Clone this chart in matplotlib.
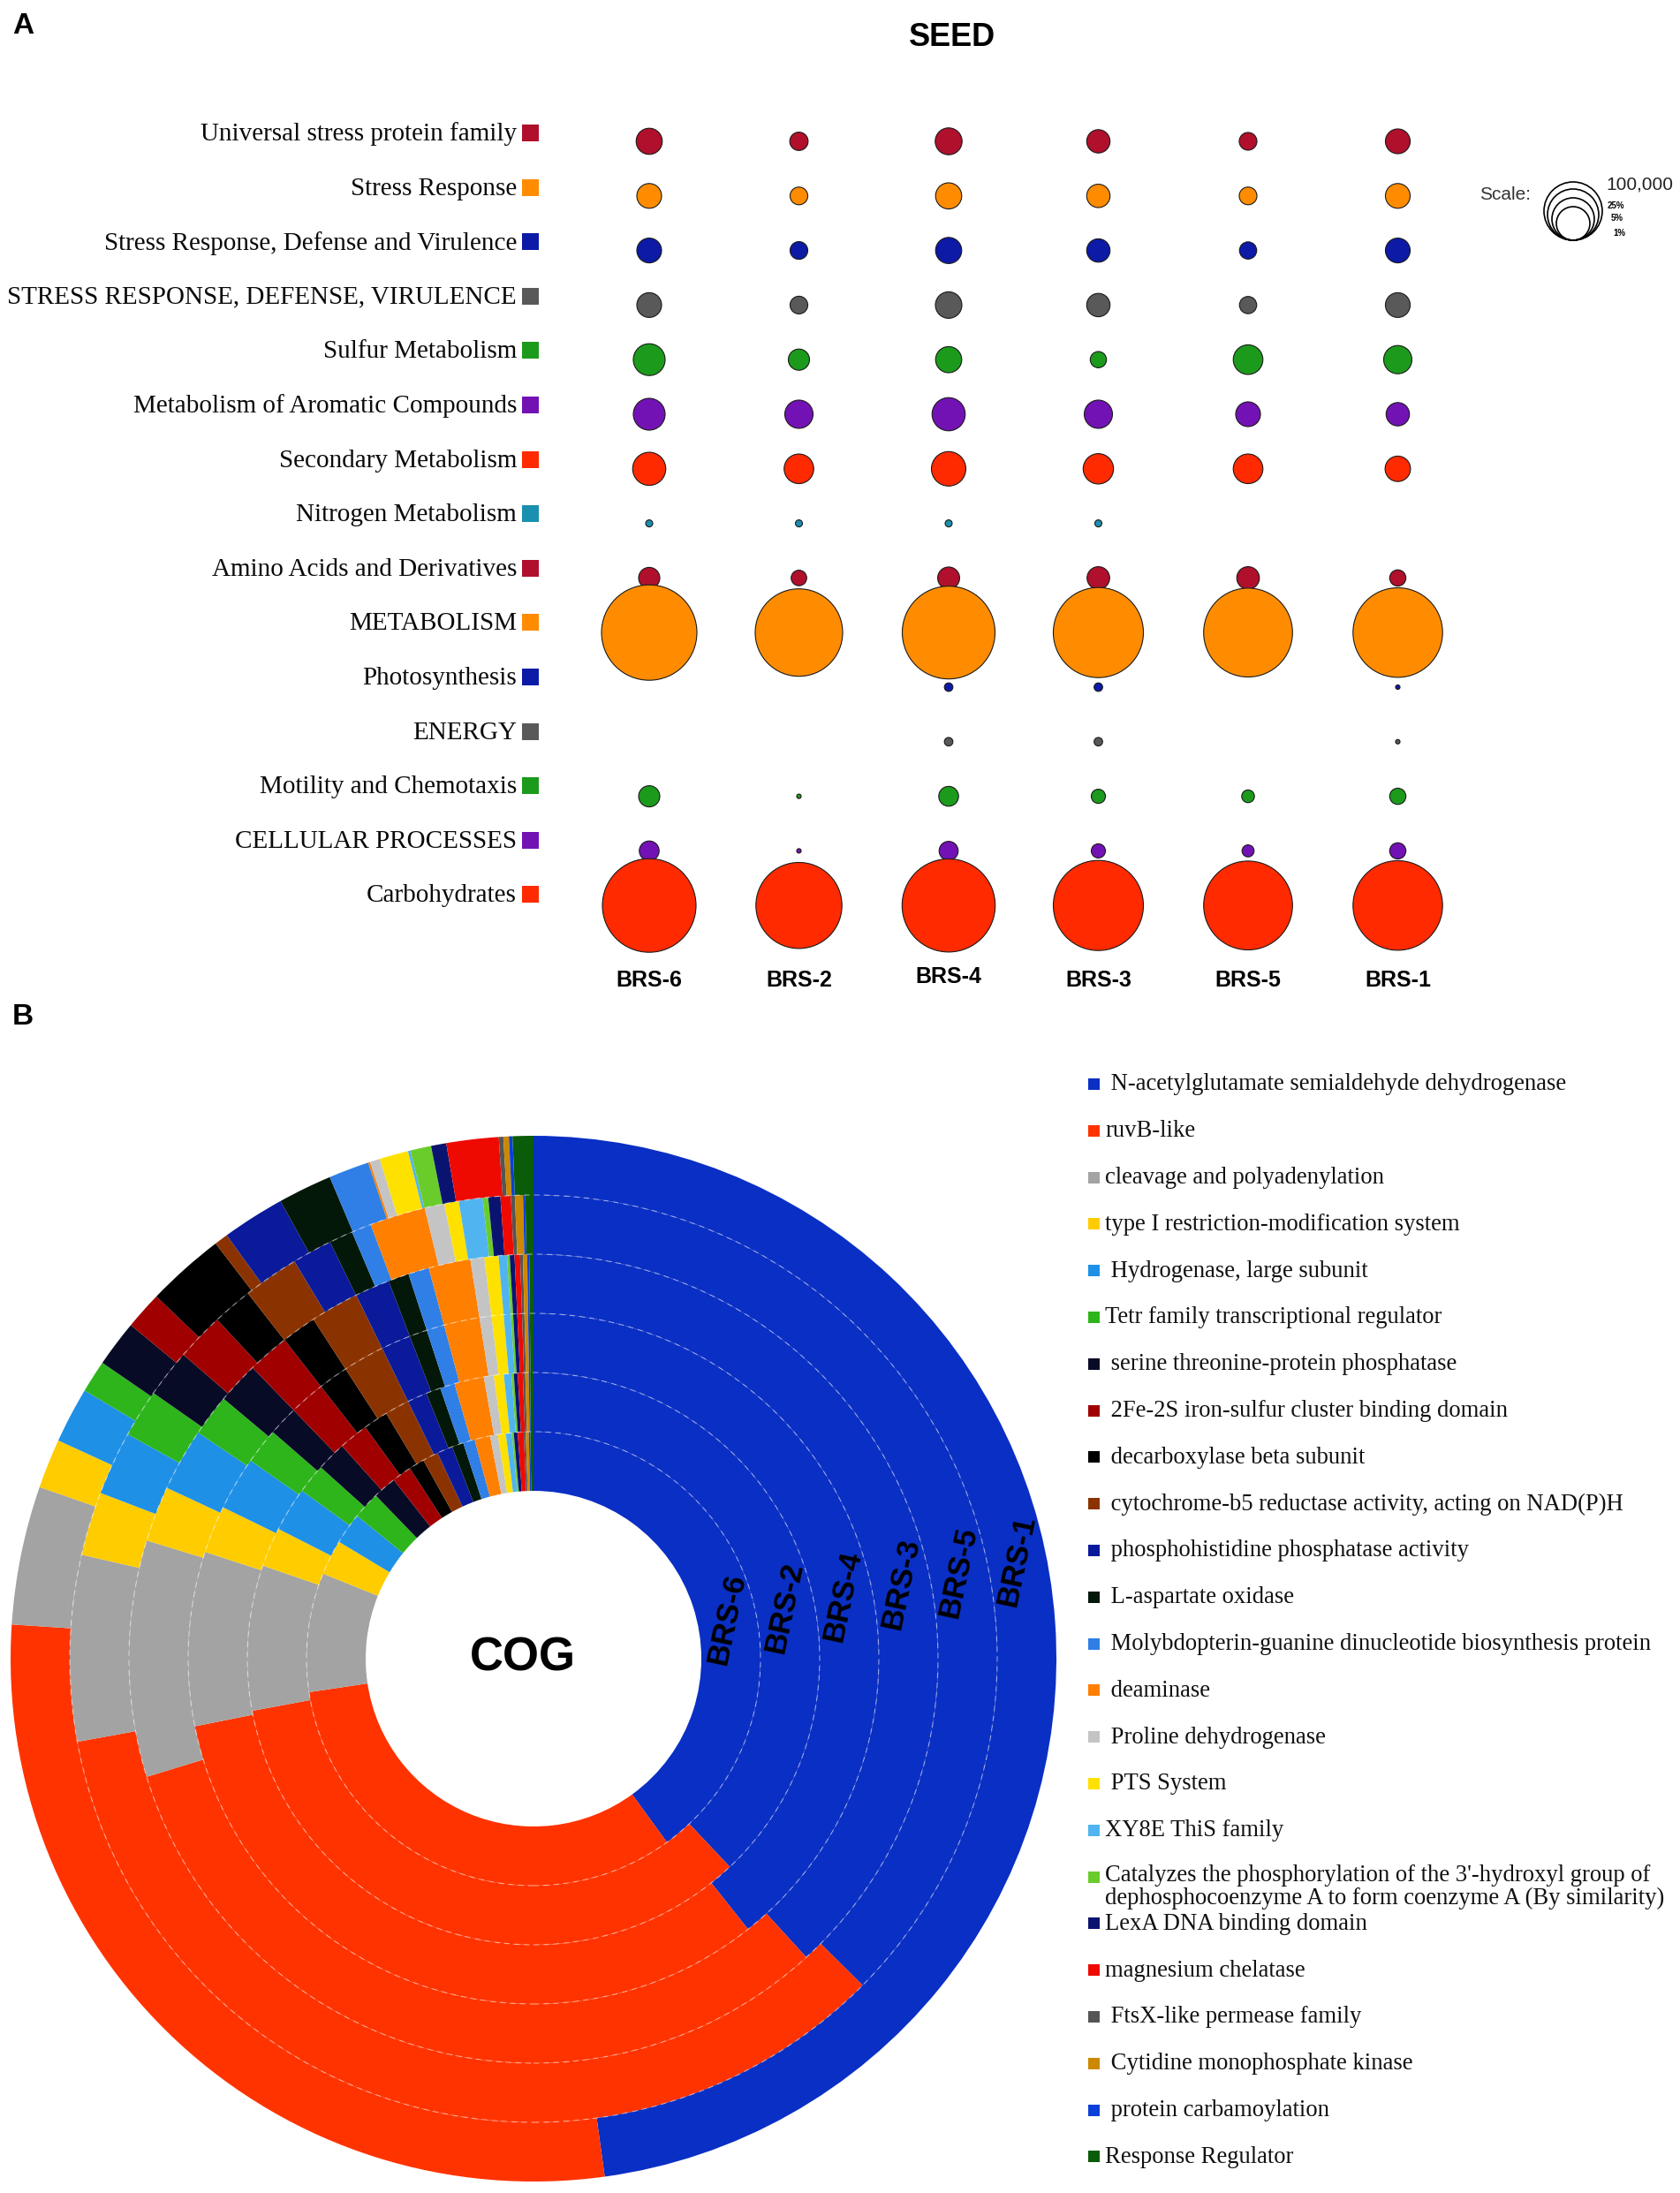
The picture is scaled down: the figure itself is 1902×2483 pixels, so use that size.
import matplotlib
matplotlib.use('Agg')
import matplotlib.pyplot as plt
from matplotlib.patches import Circle, Rectangle
import numpy as np

W, H, DPI = 1902, 2483, 100

# ---------------- Panel A data (SEED) ----------------
seed_samples = ['BRS-6', 'BRS-2', 'BRS-4', 'BRS-3', 'BRS-5', 'BRS-1']
seed_categories = ['Universal stress protein family', 'Stress Response',
                   'Stress Response, Defense and Virulence',
                   'STRESS RESPONSE, DEFENSE, VIRULENCE', 'Sulfur Metabolism',
                   'Metabolism of Aromatic Compounds', 'Secondary Metabolism',
                   'Nitrogen Metabolism', 'Amino Acids and Derivatives',
                   'METABOLISM', 'Photosynthesis', 'ENERGY',
                   'Motility and Chemotaxis', 'CELLULAR PROCESSES', 'Carbohydrates']
seed_colors = ['#b0102c', '#ff8c00', '#0c1aa6', '#595959', '#1c9a1c', '#7312b4',
               '#ff2a00', '#1a8fb0', '#b0102c', '#ff8c00', '#0c1aa6', '#595959',
               '#1c9a1c', '#7312b4', '#ff2a00']
counts_brs6 = [20700, 18600, 18600, 18600, 30700, 30700, 33300, 1500, 13600, 276000, 0, 0, 13600, 11900, 266000]
counts_brs2 = [10200, 9500, 9500, 9500, 13600, 24200, 26600, 1500, 7300, 232000, 0, 0, 600, 600, 224600]
counts_brs4 = [21900, 20700, 20700, 21300, 20700, 33300, 36000, 1500, 14600, 261000, 2200, 2200, 11900, 11000, 263000]
counts_brs3 = [16500, 16500, 16500, 16500, 8000, 24200, 27900, 1500, 15500, 246300, 2200, 2200, 6100, 6100, 246300]
counts_brs5 = [9500, 9500, 9000, 9000, 26600, 18600, 26600, 0, 15500, 239600, 0, 0, 4900, 4400, 239600]
counts_brs1 = [18600, 18600, 18600, 18600, 24200, 16500, 19600, 0, 8000, 243400, 600, 600, 8000, 8000, 243400]
seed_counts = [counts_brs6, counts_brs2, counts_brs4, counts_brs3, counts_brs5, counts_brs1]

# ---------------- Panel B data (COG) ----------------
cog_categories = [' N-acetylglutamate semialdehyde dehydrogenase', 'ruvB-like',
                  'cleavage and polyadenylation', 'type I restriction-modification system',
                  ' Hydrogenase, large subunit', 'Tetr family transcriptional regulator',
                  ' serine threonine-protein phosphatase', ' 2Fe-2S iron-sulfur cluster binding domain',
                  ' decarboxylase beta subunit', ' cytochrome-b5 reductase activity, acting on NAD(P)H',
                  ' phosphohistidine phosphatase activity', ' L-aspartate oxidase',
                  ' Molybdopterin-guanine dinucleotide biosynthesis protein', ' deaminase',
                  ' Proline dehydrogenase', ' PTS System', 'XY8E ThiS family',
                  "Catalyzes the phosphorylation of the 3'-hydroxyl group of\ndephosphocoenzyme A to form coenzyme A (By similarity)",
                  'LexA DNA binding domain', 'magnesium chelatase', ' FtsX-like permease family',
                  ' Cytidine monophosphate kinase', ' protein carbamoylation', 'Response Regulator']
cog_colors = ['#0a2fc4', '#ff3300', '#a3a3a3', '#ffcc00', '#1e90e6', '#2db51b',
              '#070b26', '#a00000', '#000000', '#8b3300', '#0a1a9a', '#04180a',
              '#2f7fe6', '#ff7f00', '#c4c4c4', '#ffe100', '#50b4f0', '#6acc2a',
              '#0a1470', '#ee0a00', '#555555', '#cc8800', '#0b40d8', '#0a5c0a']
cog_samples = ['BRS-6', 'BRS-2', 'BRS-4', 'BRS-3', 'BRS-5', 'BRS-1']   # inner -> outer ring
cog_brs6 = [40.0, 32.64, 8.47, 2.5, 2.22, 1.94, 1.67, 1.39, 1.11, 1.11, 1.11, 0.83, 0.83, 1.11, 0.56, 0.56, 0.42, 0.14, 0.28, 0.42, 0.14, 0.22, 0.11, 0.22]
cog_brs2 = [37.97, 34.11, 8.19, 2.22, 2.5, 1.67, 1.67, 1.67, 1.39, 1.39, 1.11, 0.83, 0.83, 1.67, 0.56, 0.56, 0.42, 0.14, 0.22, 0.28, 0.14, 0.19, 0.08, 0.19]
cog_brs4 = [39.33, 32.53, 8.14, 2.22, 2.5, 1.67, 1.39, 1.67, 1.39, 1.94, 1.39, 0.83, 0.83, 1.67, 0.56, 0.56, 0.33, 0.11, 0.19, 0.22, 0.11, 0.17, 0.08, 0.17]
cog_brs3 = [38.22, 32.06, 9.44, 2.22, 2.5, 1.67, 1.67, 1.67, 1.39, 1.94, 1.39, 0.83, 0.83, 1.67, 0.56, 0.56, 0.33, 0.11, 0.19, 0.22, 0.11, 0.17, 0.08, 0.17]
cog_brs5 = [37.44, 34.69, 6.47, 2.22, 2.22, 1.67, 1.67, 1.67, 1.39, 1.94, 1.39, 0.83, 0.69, 1.94, 0.69, 0.5, 0.83, 0.19, 0.42, 0.36, 0.14, 0.28, 0.08, 0.28]
cog_brs1 = [47.83, 28.22, 4.28, 1.53, 1.72, 1.0, 1.44, 1.17, 2.42, 0.42, 1.94, 1.67, 1.25, 0.06, 0.31, 0.89, 0.08, 0.64, 0.47, 1.61, 0.14, 0.17, 0.11, 0.64]
cog_rings = [cog_brs6, cog_brs2, cog_brs4, cog_brs3, cog_brs5, cog_brs1]

SERIF = ['Liberation Serif', 'DejaVu Serif']
SANS = ['Liberation Sans', 'DejaVu Sans']

fig = plt.figure(figsize=(W / DPI, H / DPI), dpi=DPI)
fig.patch.set_facecolor('white')


def px_axes(left, top, width, height):
    return fig.add_axes([left / W, 1 - (top + height) / H, width / W, height / H])


# ---------------- Panel A: bubbles ----------------
col_dx, col0 = 169.5, 735
row_dy, row0 = 61.8, 160
axA = px_axes(col0 - 0.5 * col_dx, row0 - 0.5 * row_dy, 6 * col_dx, 15 * row_dy)
axA.set_xlim(-0.5, 5.5)
axA.set_ylim(14.5, -0.5)
axA.axis('off')
k_size = 0.0219  # points^2 per count
for j, vals in enumerate(seed_counts):
    xs = [j for v in vals if v > 0]
    ys = [i for i, v in enumerate(vals) if v > 0]
    ss = [v * k_size for v in vals if v > 0]
    cs = [seed_colors[i] for i, v in enumerate(vals) if v > 0]
    axA.scatter(xs, ys, s=ss, c=cs, edgecolors='#1a1a1a', linewidths=0.8, zorder=3,
                clip_on=False)
for j, name in enumerate(seed_samples):
    axA.text(j, 15.38 if name != 'BRS-4' else 15.3, name, ha='center', va='center',
             fontsize=18, fontweight='bold', family=SANS, clip_on=False)

# ---------------- Panel B: donut ----------------
R_px = 592
cx, cy = 604, 1878
axB = px_axes(cx - R_px, cy - R_px, 2 * R_px, 2 * R_px)
r0 = 190 / R_px
wr = (1 - r0) / 6
for i, vals in enumerate(cog_rings):
    axB.pie(vals, radius=r0 + (i + 1) * wr, colors=cog_colors, startangle=90,
            counterclock=False, wedgeprops=dict(width=wr, linewidth=0, edgecolor='none'))
for kk in range(1, 6):
    axB.add_patch(Circle((0, 0), r0 + kk * wr, fill=False, ec='white', alpha=0.45,
                         lw=0.9, ls=(0, (5, 4)), zorder=5))
ang = np.deg2rad(11.5)
for i, name in enumerate(cog_samples):
    r = r0 + (i + 0.5) * wr
    axB.text(r * np.cos(ang), r * np.sin(ang), name, rotation=78, ha='center', va='center',
             fontsize=25, fontweight='bold', family=SANS, zorder=6)
axB.text(-0.02, 0, 'COG', ha='center', va='center', fontsize=38, fontweight='bold',
         family=SANS, zorder=6)
axB.set_xlim(-1, 1)
axB.set_ylim(-1, 1)
axB.set_aspect('equal')
axB.axis('off')

# ---------------- Overlay (pixel coordinates) for labels / legends ----------------
ov = fig.add_axes([0, 0, 1, 1])
ov.set_xlim(0, W)
ov.set_ylim(H, 0)
ov.axis('off')

ov.text(14, 30, 'A', ha='left', va='center', fontsize=24, fontweight='bold', family=SANS)
ov.text(14, 1152, 'B', ha='left', va='center', fontsize=24, fontweight='bold', family=SANS)
ov.text(1078, 43, 'SEED', ha='center', va='center', fontsize=26, fontweight='bold', family=SANS)

for i, (name, col) in enumerate(zip(seed_categories, seed_colors)):
    y = 152 + 61.6 * i
    ov.text(585, y, name, ha='right', va='center', fontsize=21, family=SERIF, color='#0a0a0a')
    ov.add_patch(Rectangle((591, y - 11), 19, 19, fc=col, ec='none'))

# scale legend
ov.text(1675, 220, 'Scale:', ha='left', va='center', fontsize=15, family=SANS, color='#333333')
for d in [66, 58, 48, 38]:
    ov.add_patch(Circle((1781, 272 - d / 2), d / 2, fill=False, ec='black', lw=1.2))
ov.text(1818, 209, '100,000', ha='left', va='center', fontsize=15, family=SANS, color='#222222')
ov.text(1820, 233, '25%', ha='left', va='center', fontsize=7, fontweight='bold', family=SANS)
ov.text(1824, 247, '5%', ha='left', va='center', fontsize=7, fontweight='bold', family=SANS)
ov.text(1826, 264, '1%', ha='left', va='center', fontsize=7, fontweight='bold', family=SANS)

# COG legend
for i, (name, col) in enumerate(zip(cog_categories, cog_colors)):
    y = 1228 + 52.8 * i
    ov.add_patch(Rectangle((1232, y - 7), 13, 13, fc=col, ec='none'))
    if '\n' in name:
        ov.text(1251, y - 15, name, ha='left', va='top', fontsize=19.2, family=SERIF,
                color='#111111', linespacing=1.05)
    else:
        ov.text(1251, y, name, ha='left', va='center', fontsize=19.2, family=SERIF,
                color='#111111')

fig.savefig('out.png', dpi=DPI, facecolor='white')
